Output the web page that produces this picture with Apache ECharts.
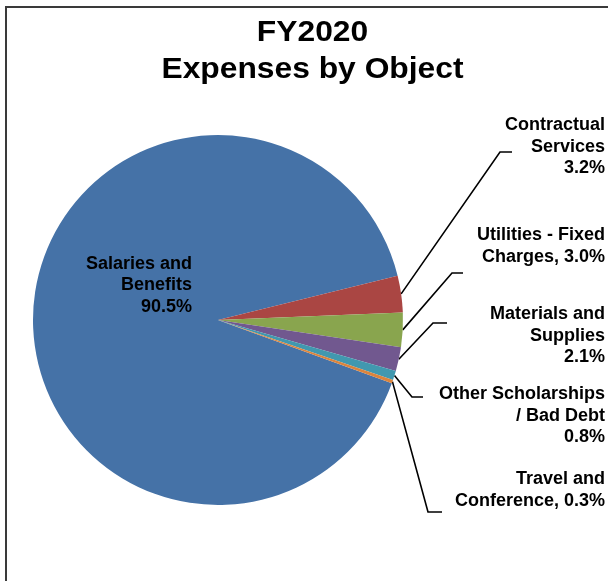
<!DOCTYPE html>
<html><head><meta charset="utf-8">
<script src="https://cdn.jsdelivr.net/npm/echarts@6/dist/echarts.min.js"></script>
<style>html,body{margin:0;padding:0;background:#fff}#c{width:608px;height:581px}</style>
</head><body><div id="c"></div>
<script>
// ---- data ----
const titleLines = ['FY2020', 'Expenses by Object'];
const categories = ['Salaries and Benefits', 'Contractual Services', 'Utilities - Fixed Charges',
  'Materials and Supplies', 'Other Scholarships / Bad Debt', 'Travel and Conference'];
const values = [90.5, 3.2, 3.0, 2.1, 0.8, 0.3];
const labelTexts = ['Salaries and\nBenefits\n90.5%', 'Contractual\nServices\n3.2%',
  'Utilities - Fixed\nCharges, 3.0%', 'Materials and\nSupplies\n2.1%',
  'Other Scholarships\n/ Bad Debt\n0.8%', 'Travel and\nConference, 0.3%'];
const colors = ['#4572A7', '#AA4643', '#89A54E', '#71588F', '#4198AF', '#DB843D'];

// ---- label placement (right edge, top, leader bend & end) ----
const labelPlacement = [
  { x: 192, y: 253 },
  { x: 605, y: 114.5, bend: [500, 152], end: [512, 152] },
  { x: 605, y: 224.5, bend: [452, 273], end: [463, 273] },
  { x: 605, y: 303.5, bend: [433, 323], end: [447, 323] },
  { x: 605, y: 383.5, bend: [412, 397], end: [423, 397] },
  { x: 605, y: 468.5, bend: [428, 512], end: [442, 512] }
];
const titleY = [32.8, 69.7];

const FONT = '"Liberation Sans", Arial, sans-serif';
const chart = echarts.init(document.getElementById('c'), null, { renderer: 'canvas' });

const seriesData = categories.map((name, i) => {
  const d = { name: name, value: values[i], itemStyle: { color: colors[i] } };
  if (i === 0) {
    d.label = { position: 'inside' };
    d.labelLine = { show: false };
  }
  return d;
});

const graphics = [{
  type: 'rect', z: -10, silent: true,
  shape: { x: 6, y: 7, width: 700, height: 700 },
  style: { fill: 'none', stroke: '#3a3a3a', lineWidth: 2 }
}];
titleLines.forEach((t, i) => {
  graphics.push({
    type: 'text', silent: true, x: 312.5, y: titleY[i], scaleX: 1.096, scaleY: 1,
    style: { text: t, font: 'bold 29px ' + FONT, fill: '#000', textAlign: 'center', textVerticalAlign: 'middle' }
  });
});

chart.setOption({
  backgroundColor: '#fff',
  animation: false,
  graphic: graphics,
  series: [{
    type: 'pie',
    center: [218, 320],
    radius: 185,
    startAngle: -20,
    clockwise: true,
    avoidLabelOverlap: false,
    emphasis: { disabled: true },
    itemStyle: { borderWidth: 0 },
    data: seriesData,
    label: {
      show: true,
      position: 'outside',
      formatter: p => labelTexts[p.dataIndex],
      fontFamily: FONT, fontSize: 18, fontWeight: 'bold', color: '#000',
      lineHeight: 21.5, align: 'right'
    },
    labelLine: { show: true, length: 10, length2: 10, lineStyle: { color: '#000', width: 1.6 } },
    labelLayout: function (p) {
      const pl = labelPlacement[p.dataIndex];
      const o = { x: pl.x, y: pl.y, align: 'right', verticalAlign: 'top' };
      if (pl.bend && p.labelLinePoints) {
        o.labelLinePoints = [p.labelLinePoints[0], pl.bend, pl.end];
      }
      return o;
    }
  }]
});
</script>
</body></html>
